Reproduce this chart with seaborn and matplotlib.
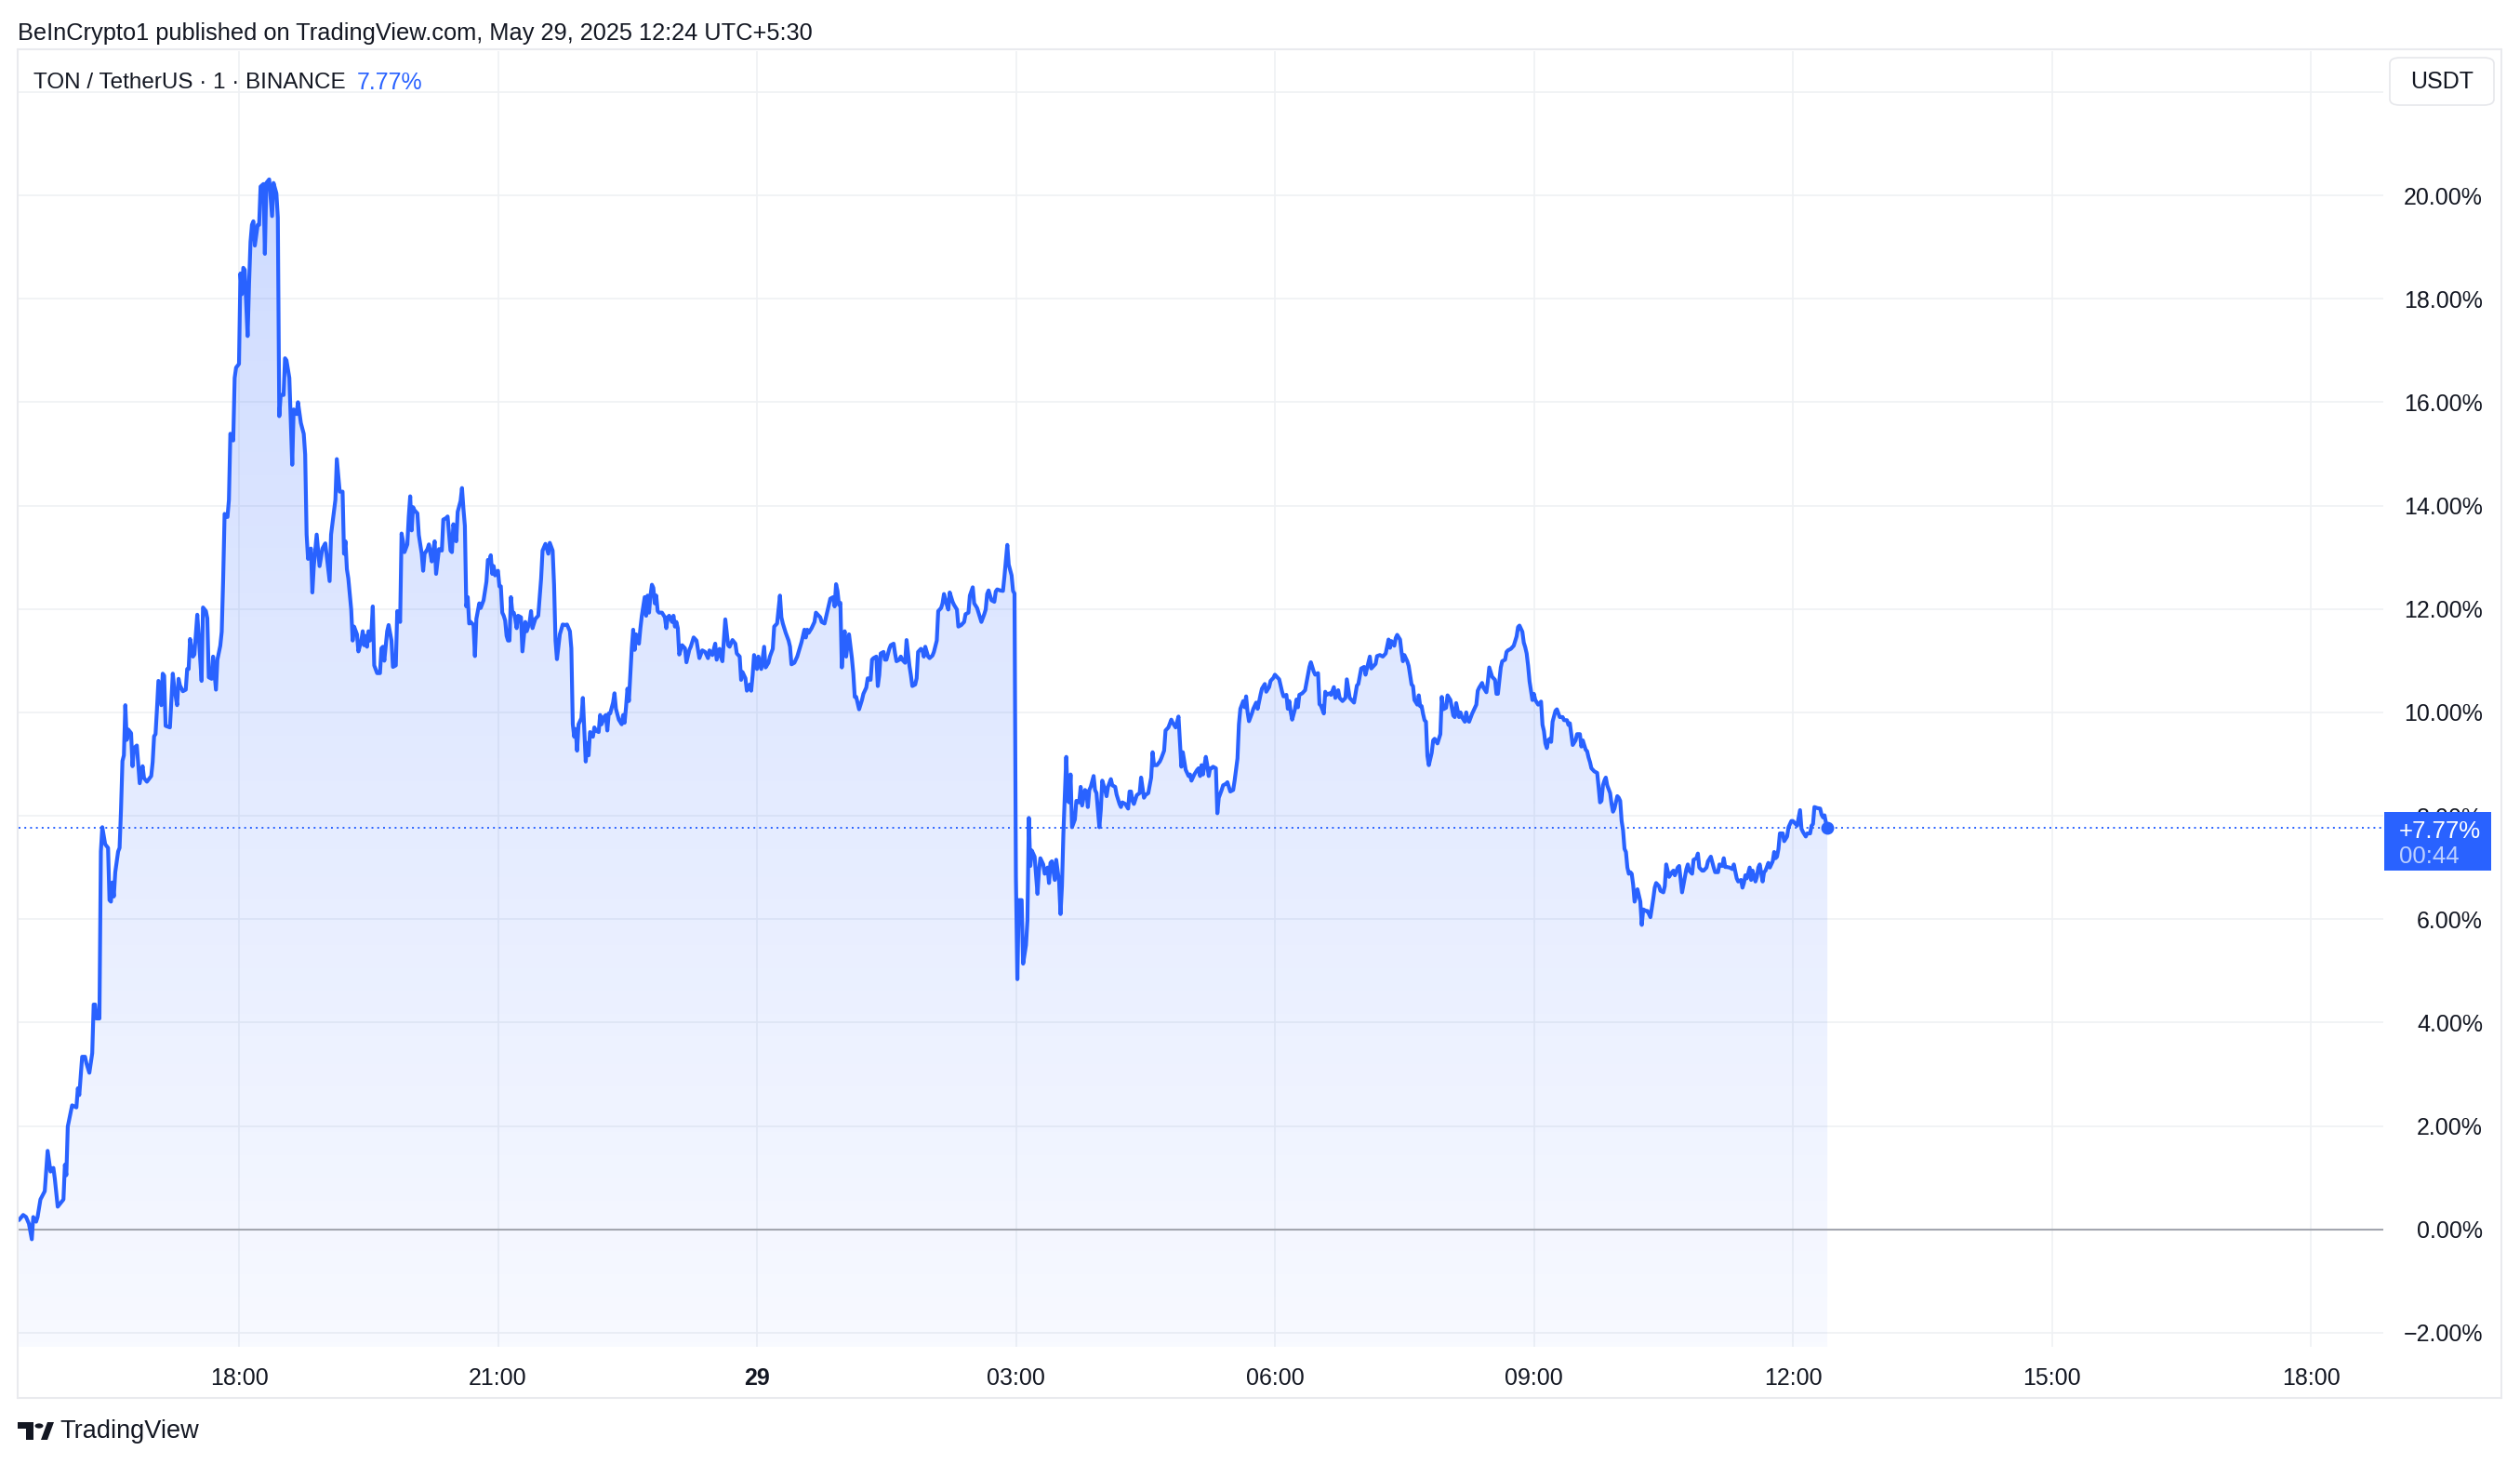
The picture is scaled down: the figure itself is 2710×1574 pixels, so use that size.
import matplotlib
matplotlib.use("Agg")
import matplotlib.pyplot as plt
import matplotlib.patches as mpatches
import matplotlib.transforms as mtransforms
from matplotlib.colors import to_rgb
import numpy as np
import pandas as pd
import seaborn as sns

# ---- data (TON/USDT, 1m, % change) ----
times_may28 = """
15:27 15:30 15:32 15:34 15:36 15:37 15:39 15:40 15:42 15:45 15:47 15:49 15:51 15:52 15:54 15:56 15:58 15:59
16:00 16:01 16:04 16:07 16:08 16:09 16:11 16:13 16:14 16:16 16:18 16:19 16:20 16:21 16:23 16:24 16:25 16:27
16:29 16:30 16:31 16:32 16:33 16:34 16:36 16:37 16:38 16:39 16:40 16:41 16:42 16:43 16:45 16:46 16:47 16:49
16:51 16:53 16:54 16:56 16:59 17:00 17:01 17:02 17:03 17:04 17:06 17:07 17:08 17:09 17:12 17:14 17:15 17:17
17:18 17:19 17:21 17:23 17:24 17:25 17:26 17:28 17:29 17:31 17:32 17:34 17:35 17:37 17:38 17:39 17:41 17:42
17:44 17:45 17:47 17:48 17:49 17:50 17:52 17:53 17:54 17:56 17:57 17:58 18:00 18:01 18:02 18:03 18:04 18:06
18:07 18:08 18:09 18:10 18:11 18:13 18:14 18:15 18:17 18:18 18:19 18:21 18:23 18:24 18:26 18:27 18:28 18:29
18:31 18:32 18:33 18:35 18:37 18:38 18:40 18:41 18:43 18:45 18:46 18:47 18:48 18:50 18:51 18:52 18:54 18:56
18:58 19:00 19:03 19:04 19:07 19:08 19:10 19:12 19:13 19:14 19:15 19:16 19:18 19:19 19:20 19:22 19:23 19:25
19:26 19:27 19:28 19:29 19:30 19:31 19:32 19:33 19:34 19:36 19:38 19:39 19:40 19:41 19:43 19:44 19:46 19:47
19:49 19:50 19:52 19:53 19:54 19:55 19:57 19:58 19:59 20:00 20:01 20:02 20:04 20:05 20:07 20:08 20:09 20:11
20:12 20:14 20:15 20:16 20:17 20:19 20:21 20:22 20:24 20:25 20:27 20:28 20:29 20:31 20:32 20:34 20:35 20:36
20:37 20:38 20:39 20:40 20:41 20:43 20:44 20:45 20:47 20:48 20:50 20:52 20:53 20:54 20:55 20:56 20:57 20:58
21:00 21:01 21:02 21:03 21:04 21:05 21:06 21:07 21:08 21:09 21:10 21:11 21:12 21:13 21:14 21:16 21:17 21:19
21:20 21:22 21:23 21:24 21:26 21:28 21:30 21:31 21:33 21:35 21:36 21:38 21:39 21:40 21:41 21:43 21:45 21:47
21:48 21:50 21:51 21:52 21:53 21:54 21:55 21:56 21:57 21:58 21:59 22:01 22:02 22:03 22:04 22:06 22:07 22:08
22:10 22:11 22:12 22:14 22:15 22:16 22:17 22:18 22:20 22:21 22:22 22:24 22:26 22:27 22:28 22:29 22:30 22:31
22:32 22:33 22:34 22:35 22:36 22:38 22:39 22:40 22:42 22:43 22:44 22:45 22:46 22:47 22:48 22:49 22:50 22:51
22:52 22:54 22:56 22:57 22:58 22:59 23:01 23:02 23:03 23:04 23:05 23:06 23:08 23:10 23:11 23:13 23:14 23:16
23:18 23:20 23:22 23:24 23:26 23:27 23:29 23:31 23:32 23:34 23:35 23:36 23:38 23:40 23:41 23:43 23:45 23:46
23:48 23:49 23:50 23:52 23:53 23:55 23:56 23:57 23:58
""".split()

pct_may28 = [
    0.18, 0.28, 0.24, 0.11, -0.19, 0.24, 0.15, 0.24, 0.58, 0.74, 1.52, 1.12, 1.19, 0.98, 0.44, 0.51, 0.58, 1.25,
    1.05, 1.99, 2.40, 2.36, 2.73, 2.60, 3.34, 3.34, 3.21, 3.03, 3.41, 4.35, 4.35, 4.08, 4.08, 7.31, 7.78, 7.45,
    7.38, 6.37, 6.34, 6.71, 6.44, 6.91, 7.31, 7.38, 8.12, 9.06, 9.17, 10.14, 9.47, 9.67, 9.60, 8.96, 9.31, 9.36,
    8.63, 8.96, 8.73, 8.66, 8.77, 9.04, 9.54, 9.58, 10.07, 10.61, 10.14, 10.75, 10.71, 9.74, 9.71, 10.75, 10.48, 10.14,
    10.65, 10.52, 10.41, 10.44, 10.84, 10.84, 11.42, 11.08, 11.12, 11.89, 11.49, 10.61, 12.03, 11.96, 11.82, 10.68, 10.65, 11.08,
    10.44, 11.02, 11.29, 11.56, 12.57, 13.84, 13.78, 14.11, 15.39, 15.26, 16.47, 16.67, 16.74, 18.49, 18.09, 18.60, 18.56, 17.28,
    18.29, 19.10, 19.43, 19.50, 19.03, 19.43, 19.43, 20.17, 20.22, 18.87, 20.24, 20.31, 19.60, 20.24, 20.04, 19.57, 15.73, 16.14,
    16.14, 16.85, 16.81, 16.47, 14.79, 15.86, 15.77, 16.00, 15.60, 15.39, 14.99, 13.44, 12.97, 13.17, 12.32, 12.83, 13.44, 12.83,
    13.17, 13.27, 12.54, 13.44, 14.11, 14.90, 14.27, 14.27, 13.07, 13.31, 12.77, 12.59, 11.99, 11.39, 11.66, 11.51, 11.18, 11.39,
    11.57, 11.30, 11.48, 11.27, 11.57, 11.39, 11.54, 12.05, 10.91, 10.76, 10.76, 11.24, 11.27, 11.00, 11.57, 11.69, 11.39, 10.88,
    10.91, 11.96, 11.75, 13.46, 13.31, 13.10, 13.25, 13.79, 14.18, 13.52, 13.97, 13.91, 13.85, 13.43, 13.07, 12.74, 13.07, 13.16,
    13.25, 12.92, 13.13, 13.31, 12.68, 13.16, 13.13, 13.73, 13.76, 13.79, 13.13, 13.10, 13.64, 13.31, 13.88, 14.09, 14.34, 13.94,
    13.61, 12.05, 12.23, 11.72, 11.75, 11.69, 11.09, 11.81, 12.11, 12.02, 12.17, 12.53, 12.95, 12.92, 13.04, 12.68, 12.83, 12.65,
    12.74, 12.44, 12.44, 11.93, 11.87, 11.78, 11.48, 11.39, 11.39, 12.23, 11.93, 11.93, 11.81, 11.63, 11.87, 11.84, 11.18, 11.75,
    11.57, 11.75, 11.96, 11.63, 11.81, 11.87, 12.59, 13.13, 13.26, 13.07, 13.28, 13.13, 12.47, 11.39, 11.03, 11.51, 11.70, 11.69,
    11.70, 11.57, 11.24, 9.77, 9.53, 9.68, 9.26, 9.77, 9.83, 9.89, 10.28, 9.05, 9.41, 9.17, 9.62, 9.53, 9.71, 9.65,
    9.62, 9.95, 9.77, 9.92, 9.95, 9.65, 9.98, 9.98, 10.19, 10.37, 10.07, 9.86, 9.77, 9.95, 9.80, 10.10, 10.46, 10.22,
    10.73, 11.24, 11.60, 11.21, 11.51, 11.33, 11.63, 11.87, 12.23, 11.87, 12.26, 11.93, 12.26, 12.47, 12.41, 12.11, 12.26, 11.96,
    11.93, 11.93, 11.84, 11.63, 11.84, 11.87, 11.75, 11.87, 11.66, 11.75, 11.63, 11.12, 11.30, 11.24, 10.97, 11.21, 11.27, 11.45,
    11.39, 11.05, 11.20, 11.17, 11.05, 11.20, 11.11, 11.33, 11.02, 11.23, 11.08, 10.99, 11.80, 11.30, 11.27, 11.40, 11.33, 11.14,
    11.08, 10.63, 10.78, 10.66, 10.42, 10.54, 10.42, 10.72, 11.11,
]

times_may29 = """
00:00 00:01 00:03 00:05 00:06 00:08 00:09 00:11 00:12 00:14 00:16 00:17 00:18 00:20 00:22 00:23 00:24 00:26
00:28 00:30 00:31 00:33 00:34 00:35 00:36 00:38 00:40 00:41 00:44 00:45 00:47 00:48 00:49 00:51 00:53 00:54
00:55 00:56 00:57 00:58 00:59 01:00 01:01 01:02 01:04 01:06 01:07 01:08 01:09 01:11 01:13 01:14 01:16 01:17
01:19 01:20 01:21 01:23 01:24 01:25 01:26 01:28 01:29 01:30 01:32 01:33 01:35 01:36 01:37 01:39 01:40 01:41
01:43 01:44 01:46 01:47 01:48 01:50 01:51 01:52 01:54 01:55 01:56 01:57 01:59 02:00 02:02 02:03 02:05 02:06
02:08 02:09 02:10 02:12 02:13 02:14 02:16 02:17 02:19 02:20 02:22 02:24 02:25 02:27 02:28 02:30 02:31 02:33
02:34 02:36 02:38 02:39 02:40 02:41 02:43 02:45 02:46 02:47 02:49 02:51 02:52 02:54 02:55 02:57 02:58 02:59
03:00 03:01 03:02 03:04 03:05 03:07 03:08 03:09 03:10 03:11 03:13 03:15 03:16 03:17 03:19 03:20 03:22 03:23
03:24 03:25 03:27 03:28 03:30 03:31 03:32 03:33 03:35 03:36 03:37 03:38 03:39 03:41 03:42 03:44 03:45 03:46
03:48 03:49 03:50 03:51 03:52 03:54 03:55 03:56 03:58 03:59 04:00 04:02 04:03 04:04 04:06 04:07 04:09 04:10
04:12 04:13 04:14 04:16 04:18 04:19 04:20 04:21 04:22 04:24 04:26 04:27 04:29 04:30 04:32 04:34 04:35 04:36
04:38 04:40 04:41 04:43 04:44 04:46 04:48 04:49 04:51 04:53 04:55 04:56 04:58 05:00 05:01 05:02 05:04 05:06
05:07 05:08 05:09 05:10 05:12 05:13 05:14 05:15 05:16 05:17 05:19 05:20 05:21 05:23 05:24 05:26 05:27 05:29
05:31 05:32 05:34 05:35 05:36 05:38 05:39 05:40 05:41 05:42 05:44 05:45 05:47 05:48 05:50 05:51 05:53 05:54
05:56 05:57 05:59 06:00 06:01 06:03 06:05 06:06 06:08 06:09 06:10 06:11 06:12 06:14 06:15 06:16 06:17 06:19
06:21 06:22 06:24 06:25 06:27 06:28 06:30 06:31 06:32 06:34 06:35 06:36 06:38 06:39 06:41 06:42 06:44 06:45
06:47 06:49 06:50 06:51 06:52 06:54 06:55 06:57 06:58 06:59 07:00 07:02 07:03 07:04 07:06 07:07 07:10 07:11
07:13 07:15 07:17 07:19 07:20 07:21 07:23 07:24 07:25 07:27 07:28 07:29 07:30 07:32 07:33 07:35 07:36 07:37
07:39 07:40 07:41 07:42 07:43 07:44 07:45 07:46 07:47 07:49 07:50 07:51 07:53 07:55 07:56 07:57 07:59 08:00
08:02 08:04 08:05 08:06 08:08 08:09 08:10 08:12 08:13 08:14 08:15 08:17 08:19 08:20 08:21 08:22 08:24 08:25
08:27 08:28 08:29 08:31 08:33 08:34 08:35 08:37 08:38 08:40 08:41 08:42 08:44 08:46 08:47 08:48 08:49 08:50
08:52 08:53 08:54 08:55 08:56 08:57 08:59 09:00 09:01 09:03 09:05 09:06 09:07 09:08 09:09 09:10 09:11 09:12
09:13 09:15 09:16 09:18 09:20 09:21 09:23 09:24 09:25 09:27 09:29 09:30 09:32 09:33 09:34 09:36 09:37 09:38
09:39 09:40 09:42 09:44 09:45 09:46 09:47 09:48 09:49 09:50 09:51 09:53 09:54 09:55 09:56 09:58 09:59 10:00
10:01 10:02 10:03 10:04 10:05 10:06 10:07 10:08 10:09 10:10 10:11 10:12 10:14 10:15 10:16 10:18 10:19 10:21
10:22 10:23 10:24 10:25 10:27 10:28 10:30 10:31 10:32 10:33 10:34 10:36 10:37 10:38 10:40 10:41 10:43 10:44
10:46 10:47 10:48 10:50 10:51 10:53 10:54 10:55 10:57 10:58 11:00 11:01 11:03 11:05 11:06 11:08 11:09 11:11
11:12 11:13 11:14 11:16 11:18 11:19 11:21 11:22 11:24 11:25 11:26 11:27 11:28 11:30 11:31 11:32 11:34 11:35
11:36 11:37 11:39 11:40 11:41 11:43 11:44 11:46 11:47 11:48 11:49 11:50 11:51 11:53 11:54 11:56 11:57 11:59
12:00 12:02 12:03 12:05 12:06 12:07 12:09 12:10 12:12 12:13 12:14 12:15 12:17 12:19 12:20 12:21 12:22 12:23
12:24
""".split()

pct_may29 = [
    10.84, 11.08, 10.84, 11.27, 10.87, 10.96, 11.08, 11.23, 11.66, 11.72, 12.26, 11.84, 11.72, 11.54, 11.39, 11.27, 10.93, 10.96,
    11.08, 11.27, 11.36, 11.60, 11.45, 11.60, 11.54, 11.63, 11.75, 11.93, 11.84, 11.75, 11.72, 11.84, 11.96, 12.20, 12.23, 12.05,
    12.48, 12.35, 12.08, 12.12, 10.87, 11.39, 11.57, 11.08, 11.51, 11.05, 10.75, 10.30, 10.30, 10.06, 10.24, 10.36, 10.48, 10.66,
    10.63, 11.02, 11.05, 11.08, 10.51, 10.72, 11.14, 11.17, 11.02, 11.02, 11.23, 11.30, 11.33, 11.14, 10.99, 11.02, 11.08, 11.02,
    10.96, 11.40, 10.90, 10.72, 10.51, 10.54, 10.66, 11.17, 11.23, 11.20, 11.08, 11.27, 11.08, 11.05, 11.10, 11.17, 11.39, 11.96,
    12.02, 12.11, 12.29, 12.08, 11.99, 12.32, 12.14, 12.08, 11.99, 11.66, 11.69, 11.75, 11.90, 11.93, 12.26, 12.42, 12.11, 12.02,
    11.93, 11.75, 11.90, 11.99, 12.29, 12.36, 12.17, 12.14, 12.34, 12.38, 12.36, 12.35, 12.62, 13.24, 12.86, 12.65, 12.35, 12.30,
    6.82, 4.84, 6.37, 6.37, 5.14, 5.50, 5.98, 7.96, 7.03, 7.33, 7.21, 6.49, 6.94, 7.18, 7.06, 6.88, 7.00, 6.70,
    7.09, 7.12, 6.76, 7.15, 6.73, 6.10, 6.64, 7.66, 9.14, 8.29, 8.26, 8.80, 7.78, 7.93, 8.29, 8.26, 8.56, 8.20,
    8.50, 8.47, 8.17, 8.50, 8.56, 8.77, 8.50, 8.44, 7.78, 8.11, 8.68, 8.50, 8.38, 8.56, 8.71, 8.59, 8.56, 8.41,
    8.23, 8.17, 8.26, 8.23, 8.14, 8.47, 8.47, 8.29, 8.23, 8.40, 8.44, 8.74, 8.35, 8.40, 8.44, 8.74, 9.23, 8.98,
    8.98, 9.05, 9.11, 9.26, 9.65, 9.71, 9.86, 9.80, 9.71, 9.92, 8.95, 9.23, 8.89, 8.77, 8.80, 8.68, 8.80, 8.89,
    8.92, 8.77, 8.98, 8.80, 9.14, 8.98, 8.77, 8.92, 8.92, 8.95, 8.92, 8.05, 8.35, 8.50, 8.59, 8.62, 8.65, 8.47,
    8.50, 8.68, 9.11, 9.77, 10.07, 10.22, 10.10, 10.31, 10.01, 9.83, 9.98, 10.07, 10.19, 10.07, 10.34, 10.46, 10.55, 10.40,
    10.49, 10.61, 10.67, 10.73, 10.70, 10.64, 10.40, 10.31, 10.34, 10.07, 10.22, 10.01, 9.86, 10.07, 10.25, 10.10, 10.34, 10.37,
    10.43, 10.58, 10.88, 10.97, 10.79, 10.73, 10.76, 10.16, 10.13, 9.98, 10.40, 10.34, 10.37, 10.34, 10.49, 10.28, 10.43, 10.28,
    10.22, 10.28, 10.64, 10.46, 10.28, 10.22, 10.19, 10.52, 10.55, 10.70, 10.85, 10.88, 10.73, 10.85, 11.08, 10.85, 10.94, 11.09,
    11.11, 11.08, 11.14, 11.41, 11.25, 11.38, 11.29, 11.44, 11.50, 11.41, 11.17, 10.99, 11.11, 10.99, 10.90, 10.54, 10.51, 10.24,
    10.15, 10.33, 10.12, 10.12, 9.97, 9.85, 9.82, 9.16, 8.98, 9.22, 9.46, 9.49, 9.40, 9.58, 10.30, 10.06, 10.09, 10.33,
    10.24, 9.94, 9.91, 10.18, 9.91, 10.00, 9.91, 9.82, 10.00, 9.85, 9.82, 9.97, 10.09, 10.15, 10.42, 10.48, 10.57, 10.48,
    10.39, 10.60, 10.87, 10.69, 10.63, 10.36, 10.36, 10.87, 10.99, 11.02, 11.17, 11.20, 11.23, 11.29, 11.38, 11.47, 11.65, 11.68,
    11.56, 11.35, 11.26, 11.14, 10.90, 10.60, 10.24, 10.36, 10.24, 10.15, 10.21, 9.76, 9.64, 9.40, 9.31, 9.46, 9.49, 9.43,
    9.82, 10.03, 10.06, 9.91, 9.91, 9.85, 9.85, 9.76, 9.79, 9.37, 9.46, 9.58, 9.58, 9.34, 9.46, 9.28, 9.25, 9.13,
    9.04, 8.92, 8.86, 8.83, 8.56, 8.26, 8.29, 8.59, 8.68, 8.74, 8.59, 8.44, 8.23, 8.08, 8.14, 8.38, 8.35, 8.29,
    7.90, 7.72, 7.36, 7.30, 7.00, 6.88, 6.91, 6.88, 6.67, 6.34, 6.46, 6.58, 6.34, 5.89, 6.19, 6.16, 6.16, 6.04,
    6.22, 6.40, 6.61, 6.70, 6.64, 6.55, 6.52, 6.64, 7.06, 6.94, 6.82, 6.91, 6.94, 6.85, 7.00, 7.03, 6.52, 6.67,
    6.97, 7.06, 6.94, 6.88, 7.15, 7.18, 7.27, 7.00, 6.94, 6.94, 7.00, 7.12, 7.21, 7.00, 6.91, 6.91, 7.06, 7.03,
    7.18, 7.01, 7.01, 7.00, 6.97, 7.06, 6.79, 6.73, 6.76, 6.61, 6.70, 6.85, 6.79, 7.00, 6.76, 6.94, 6.73, 6.82,
    7.00, 7.06, 6.73, 6.91, 6.94, 7.09, 7.00, 7.12, 7.30, 7.18, 7.21, 7.36, 7.66, 7.66, 7.51, 7.60, 7.78, 7.90,
    7.90, 7.84, 7.81, 8.11, 7.75, 7.69, 7.60, 7.66, 7.66, 7.81, 7.84, 8.17, 8.15, 8.14, 8.02, 7.97, 8.01, 7.87,
    7.77,
]

y_ticks = [-2, 0, 2, 4, 6, 8, 10, 12, 14, 16, 18, 20, 22]
x_tick_hours = [18, 21, 24, 27, 30, 33, 36, 39, 42]
x_tick_labels = ["18:00", "21:00", "29", "03:00", "06:00", "09:00", "12:00", "15:00", "18:00"]


def to_hours(stamps, day_offset):
    return [int(s[:2]) + int(s[3:]) / 60 + day_offset for s in stamps]


df = pd.DataFrame({
    "hour": to_hours(times_may28, 0) + to_hours(times_may29, 24),
    "pct": pct_may28 + pct_may29,
})

sns.set_theme(style="white")
plt.rcParams["font.family"] = ["Liberation Sans", "DejaVu Sans"]

BLUE = "#2962ff"
TEXT = "#131722"
W, H = 2710, 1574
fig = plt.figure(figsize=(W / 100, H / 100), dpi=100)
ax = fig.add_axes([20 / W, 1 - 1448 / H, (2563 - 20) / W, (1448 - 55) / H])

x_lo, x_hi = 15.447, 42.84
y_lo, y_hi = -2.27, 22.79

# gradient area under the line
fill = ax.fill_between(df.hour, df.pct, y_lo, color="none", lw=0)
top = df.pct.max()
rgba = np.zeros((256, 1, 4))
rgba[..., :3] = to_rgb(BLUE)
rgba[:, 0, 3] = np.linspace(0.035, 0.23, 256)
im = ax.imshow(rgba, extent=[x_lo, x_hi, y_lo, top], origin="lower", aspect="auto", zorder=1)
im.set_clip_path(fill.get_paths()[0], transform=ax.transData)

sns.lineplot(data=df, x="hour", y="pct", ax=ax, color=BLUE, lw=3.0,
             estimator=None, sort=False, zorder=4)
ax.lines[-1].set_solid_joinstyle("round")
last_h, last_p = df.hour.iloc[-1], df.pct.iloc[-1]
ax.plot([last_h], [last_p], "o", ms=9, color=BLUE, zorder=5)

ax.axhline(0, color="#a3a6af", lw=1.5, zorder=2)
ax.axhline(last_p, color=BLUE, lw=1.4, ls=(0, (1, 2.2)), zorder=3)

ax.set_xlim(x_lo, x_hi)
ax.set_ylim(y_lo, y_hi)
ax.set_xticks(x_tick_hours, labels=x_tick_labels)
# the 22% label sits under the currency box in the reference
ax.set_yticks(y_ticks, labels=[f"{v:.2f}%".replace("-", "\u2212") if v < 22 else "" for v in y_ticks])
ax.set_axisbelow(True)
ax.grid(True, color="#eff1f4", lw=1.2)
for s in ax.spines.values():
    s.set_visible(False)
ax.set_xlabel("")
ax.set_ylabel("")
ax.yaxis.tick_right()
ax.tick_params(axis="y", length=0, pad=77, labelsize=18, labelcolor=TEXT)
ax.tick_params(axis="x", length=0, pad=16, labelsize=18, labelcolor=TEXT)
for lbl in ax.get_yticklabels():
    lbl.set_horizontalalignment("right")
for lbl in ax.get_xticklabels():
    if lbl.get_text() == "29":
        lbl.set_fontweight("bold")


def fx(x):
    return x / W


def fy(y):
    return 1 - y / H


# outer frame
frame_c = "#e9eaee"
for xs, ys in [([19, 2690], [53, 53]), ([19, 2690], [1503, 1503]),
               ([19, 19], [53, 1503]), ([2690, 2690], [53, 1503])]:
    fig.add_artist(plt.Line2D([fx(v) for v in xs], [fy(v) for v in ys],
                              transform=fig.transFigure, color=frame_c, lw=1.5))

# header texts
fig.text(fx(19), fy(36), "BeInCrypto1 published on TradingView.com, May 29, 2025 12:24 UTC+5:30",
         fontsize=18.3, color=TEXT, va="center", ha="left")
fig.text(fx(36), fy(89), "TON / TetherUS \u00b7 1 \u00b7 BINANCE", fontsize=17.5, color=TEXT,
         va="center", ha="left")
fig.text(fx(384), fy(89), "7.77%", fontsize=18, color=BLUE, va="center", ha="left")

# USDT box
usdt = mpatches.FancyBboxPatch((fx(2570), fy(113)), fx(112), 51 / H,
                               boxstyle="round,pad=0,rounding_size=0.004",
                               transform=fig.transFigure, facecolor="white",
                               edgecolor="#e6e7eb", lw=1.2, zorder=5)
fig.add_artist(usdt)
fig.text(fx(2626), fy(88), "USDT", fontsize=18, color=TEXT, ha="center", va="center", zorder=6)

# last price label on the price scale
blend = mtransforms.blended_transform_factory(fig.transFigure, ax.transData)
tag = mpatches.Rectangle((fx(2564), last_p - 0.83), fx(115), 1.13, transform=blend,
                         facecolor=BLUE, edgecolor="none", zorder=5)
fig.add_artist(tag)
fig.text(fx(2580), last_p - 0.07, "+7.77%", transform=blend, fontsize=18.5, color="white",
         ha="left", va="center", zorder=6)
fig.text(fx(2580), last_p - 0.56, "00:44", transform=blend, fontsize=18.5, color="#bcd0ff",
         ha="left", va="center", zorder=6)

# TradingView logo
logo = [
    mpatches.Rectangle((fx(19), fy(1536)), fx(17), 7 / H),
    mpatches.Rectangle((fx(28), fy(1548)), fx(8), 19 / H),
    mpatches.Circle((fx(42), fy(1533)), 4.5 / W),
    mpatches.Polygon([(fx(44), fy(1548)), (fx(51), fy(1548)), (fx(58), fy(1529)), (fx(51), fy(1529))]),
]
for p in logo:
    p.set_transform(fig.transFigure)
    p.set_facecolor(TEXT)
    p.set_edgecolor("none")
    fig.add_artist(p)
fig.text(fx(64), fy(1539), "TradingView", fontsize=19.5, color=TEXT, ha="left", va="center")

fig.savefig("out.png", dpi=100, facecolor="white")
